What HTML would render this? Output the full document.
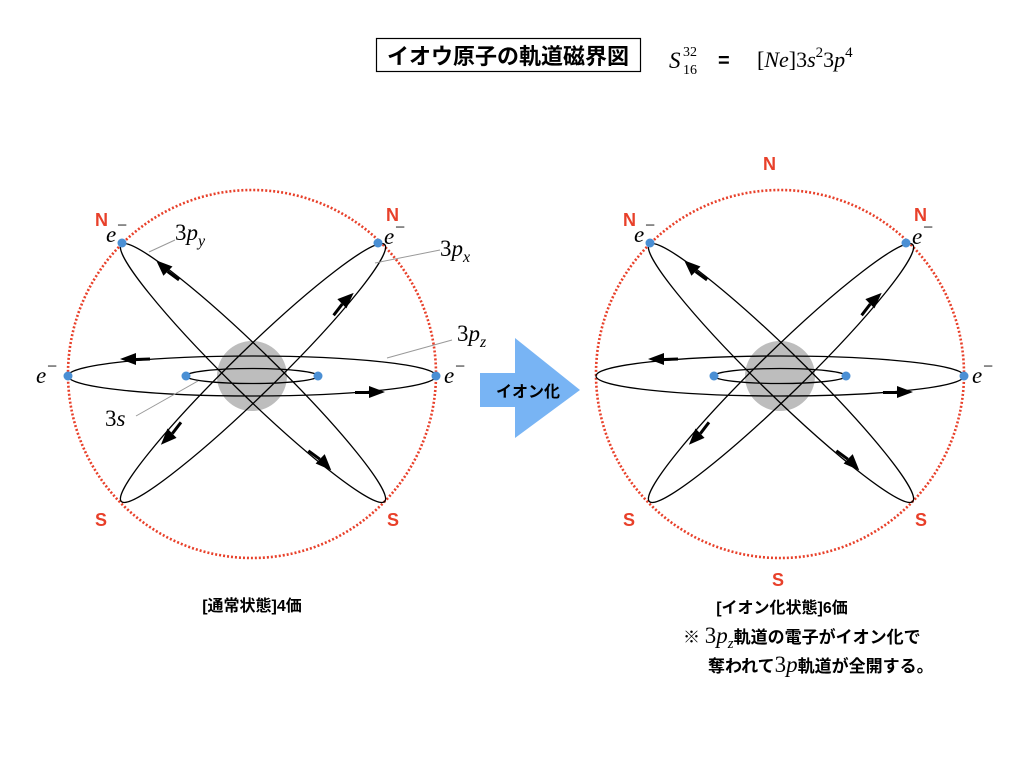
<!DOCTYPE html>
<html><head><meta charset="utf-8"><style>
html,body{margin:0;padding:0;background:#fff;}
svg{display:block;}
.jp{font-family:"Liberation Sans","Noto Sans CJK JP",sans-serif;font-weight:bold;}
.it{font-family:"Liberation Serif",serif;font-style:italic;}
.rm{font-family:"Liberation Serif",serif;}
.red{font-family:"Liberation Sans",sans-serif;font-weight:bold;fill:#e8402a;font-size:18px;}
</style></head><body>
<svg width="1024" height="768" viewBox="0 0 1024 768" xmlns="http://www.w3.org/2000/svg">
<defs>
<g id="atom">
  <circle cx="252" cy="376" r="35" fill="#bdbdbd"/>
  <circle cx="252" cy="374" r="184" fill="none" stroke="#e8402a" stroke-width="2.6" stroke-dasharray="2 2"/>
  <ellipse cx="252" cy="376" rx="184" ry="20" fill="none" stroke="#000" stroke-width="1.3"/>
  <ellipse cx="252" cy="376" rx="66" ry="7.5" fill="none" stroke="#000" stroke-width="1.3"/>
  <g transform="translate(253,373) rotate(44.3)">
    <ellipse cx="0" cy="0" rx="184" ry="22" fill="none" stroke="#000" stroke-width="1.3"/>
    <polygon points="-148,-13 -132,-20 -132,-7" fill="#000"/>
    <line x1="-132" y1="-13" x2="-118" y2="-15" stroke="#000" stroke-width="3"/>
    <polygon points="124,15 108,8 108,21" fill="#000"/>
    <line x1="108" y1="15" x2="94" y2="17" stroke="#000" stroke-width="3"/>
  </g>
  <g transform="translate(253,373) rotate(-44.3)">
    <ellipse cx="0" cy="0" rx="184" ry="22" fill="none" stroke="#000" stroke-width="1.3"/>
    <polygon points="128,13 112,6 112,19" fill="#000"/>
    <line x1="112" y1="13" x2="98" y2="15" stroke="#000" stroke-width="3"/>
    <polygon points="-116,-13 -100,-20 -100,-7" fill="#000"/>
    <line x1="-100" y1="-13" x2="-86" y2="-15" stroke="#000" stroke-width="3"/>
  </g>
  <polygon points="120,359 136,353 136,365" fill="#000"/>
  <line x1="136" y1="359.5" x2="150" y2="359" stroke="#000" stroke-width="3"/>
  <polygon points="385,392 369,386 369,398" fill="#000"/>
  <line x1="355" y1="392.5" x2="369" y2="392.5" stroke="#000" stroke-width="3"/>
  <g fill="#4a8fd4">
    <circle cx="436" cy="376" r="4.5"/><circle cx="186" cy="376" r="4.5"/><circle cx="318" cy="376" r="4.5"/>
    <circle cx="122" cy="243" r="4.5"/><circle cx="378" cy="243" r="4.5"/>
  </g>
  <text x="95" y="226" class="red">N</text><text x="386" y="221" class="red">N</text>
  <text x="95" y="526" class="red">S</text><text x="387" y="526" class="red">S</text>
  <text x="106" y="242" class="it" font-size="23">e</text><text x="117" y="231" class="rm" font-size="18">−</text>
  <text x="384" y="244" class="it" font-size="23">e</text><text x="395" y="233" class="rm" font-size="18">−</text>
  <text x="444" y="383" class="it" font-size="23">e</text><text x="455" y="372" class="rm" font-size="18">−</text>
</g>
</defs>
<use href="#atom"/>
<use href="#atom" transform="translate(528,0)"/>
<circle cx="68" cy="376" r="4.5" fill="#4a8fd4"/>
<text x="36" y="383" class="it" font-size="23">e</text><text x="47" y="372" class="rm" font-size="18">−</text>
<g stroke="#999" stroke-width="1"><line x1="175" y1="240" x2="149" y2="252"/><line x1="440" y1="250" x2="375" y2="263"/><line x1="452" y1="340" x2="387" y2="358"/><line x1="136" y1="416" x2="198" y2="381"/></g>
<text x="175" y="240" class="rm" font-size="23">3<tspan class="it">p</tspan><tspan class="it" font-size="16" dy="6">y</tspan></text>
<text x="440" y="256" class="rm" font-size="23">3<tspan class="it">p</tspan><tspan class="it" font-size="16" dy="6">x</tspan></text>
<text x="457" y="341" class="rm" font-size="23">3<tspan class="it">p</tspan><tspan class="it" font-size="16" dy="6">z</tspan></text>
<text x="105" y="426" class="rm" font-size="23">3<tspan class="it">s</tspan></text>
<text x="763" y="170" class="red">N</text><text x="772" y="586" class="red">S</text>
<polygon points="480,373 515,373 515,338 580,390 515,438 515,407 480,407" fill="#78b4f4"/>
<text x="528" y="397" class="jp" font-size="16" text-anchor="middle">イオン化</text>
<rect x="376.5" y="38.5" width="264" height="33" fill="none" stroke="#000" stroke-width="1.2"/>
<text x="508" y="64" class="jp" font-size="22" text-anchor="middle">イオウ原子の軌道磁界図</text>
<text x="669" y="68" class="it" font-size="23">S</text>
<text x="683" y="56" class="rm" font-size="14">32</text><text x="683" y="74" class="rm" font-size="14">16</text>
<text x="718" y="67" class="jp" font-size="20">=</text>
<text x="757" y="67" class="rm" font-size="22">[<tspan class="it">Ne</tspan>]3<tspan class="it">s</tspan><tspan font-size="15" dy="-10">2</tspan><tspan dy="10">3</tspan><tspan class="it">p</tspan><tspan font-size="15" dy="-10">4</tspan></text>
<text x="252" y="611" class="jp" font-size="16" text-anchor="middle">[通常状態]4価</text>
<text x="782" y="613" class="jp" font-size="16" text-anchor="middle">[イオン化状態]6価</text>
<text x="683" y="643" class="jp" font-size="17">※ <tspan class="rm" font-weight="normal" font-size="23">3</tspan><tspan class="it" font-weight="normal" font-size="23">p</tspan><tspan class="it" font-weight="normal" font-size="15" dy="5">z</tspan><tspan dy="-5">軌道の電子がイオン化で</tspan></text>
<text x="708" y="672" class="jp" font-size="17">奪われて<tspan class="rm" font-weight="normal" font-size="23">3</tspan><tspan class="it" font-weight="normal" font-size="23">p</tspan>軌道が全開する。</text>
</svg>
</body></html>
